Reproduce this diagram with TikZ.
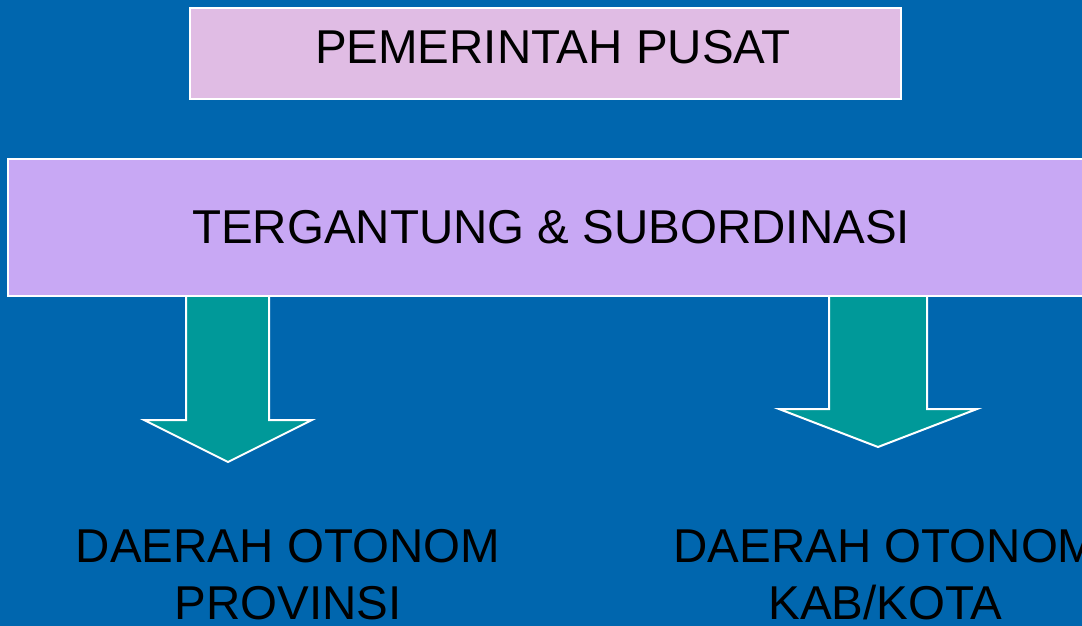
\documentclass[tikz,border=0pt]{standalone}
\usepackage{fontspec}
\setmainfont{Liberation Sans}
\usepackage{tikz}
\definecolor{slideblue}{RGB}{0, 102, 174}
\definecolor{pinklilac}{RGB}{224, 188, 228}
\definecolor{lavender}{RGB}{200, 168, 244}
\definecolor{arrowteal}{RGB}{0, 153, 153}

\begin{document}
\begin{tikzpicture}[x=1pt, y=-1pt, font=\fontsize{47.5}{57}\selectfont,
                    box/.style={draw=white, line width=2pt, inner sep=0pt},
                    blockarrow/.style={draw=white, line width=2pt, fill=arrowteal, line join=miter}]
            % Slide background
            \fill[slideblue]                                                  (0,0) rectangle (1082,626);
            \useasboundingbox                                                 (0,0) rectangle (1082,626);
            % Left arrow
            \filldraw[blockarrow] (186,290) -- (186,420) -- (144,420) -- (228,462) -- (312,420) -- (269,420) -- (269,290);
            % Right arrow
            \filldraw[blockarrow] (829,290) -- (829,409) -- (779,409) -- (878,447) -- (977,409) -- (927,409) -- (927,290);
            % Top box
            \node[box, fill=pinklilac, minimum width=711pt, minimum height=91pt]  (pusat)    at (545.5, 53.5) {};
            \node                                                                  (pusatlbl) at (553.0, 47.5) {PEMERINTAH PUSAT};
            % Middle box
            \node[box, fill=lavender, minimum width=1086pt, minimum height=137pt] (sub)      at (551.0,227.5) {TERGANTUNG \& SUBORDINASI};
            % Bottom labels
            \node[anchor=north, align=center, inner sep=0pt]                       (prov)     at (288.0,529.0) {DAERAH OTONOM\\PROVINSI};
            \node[anchor=north, align=center, inner sep=0pt]                       (kab)      at (885.5,529.0) {DAERAH OTONOM\\KAB/KOTA};
        \end{tikzpicture}
\end{document}
